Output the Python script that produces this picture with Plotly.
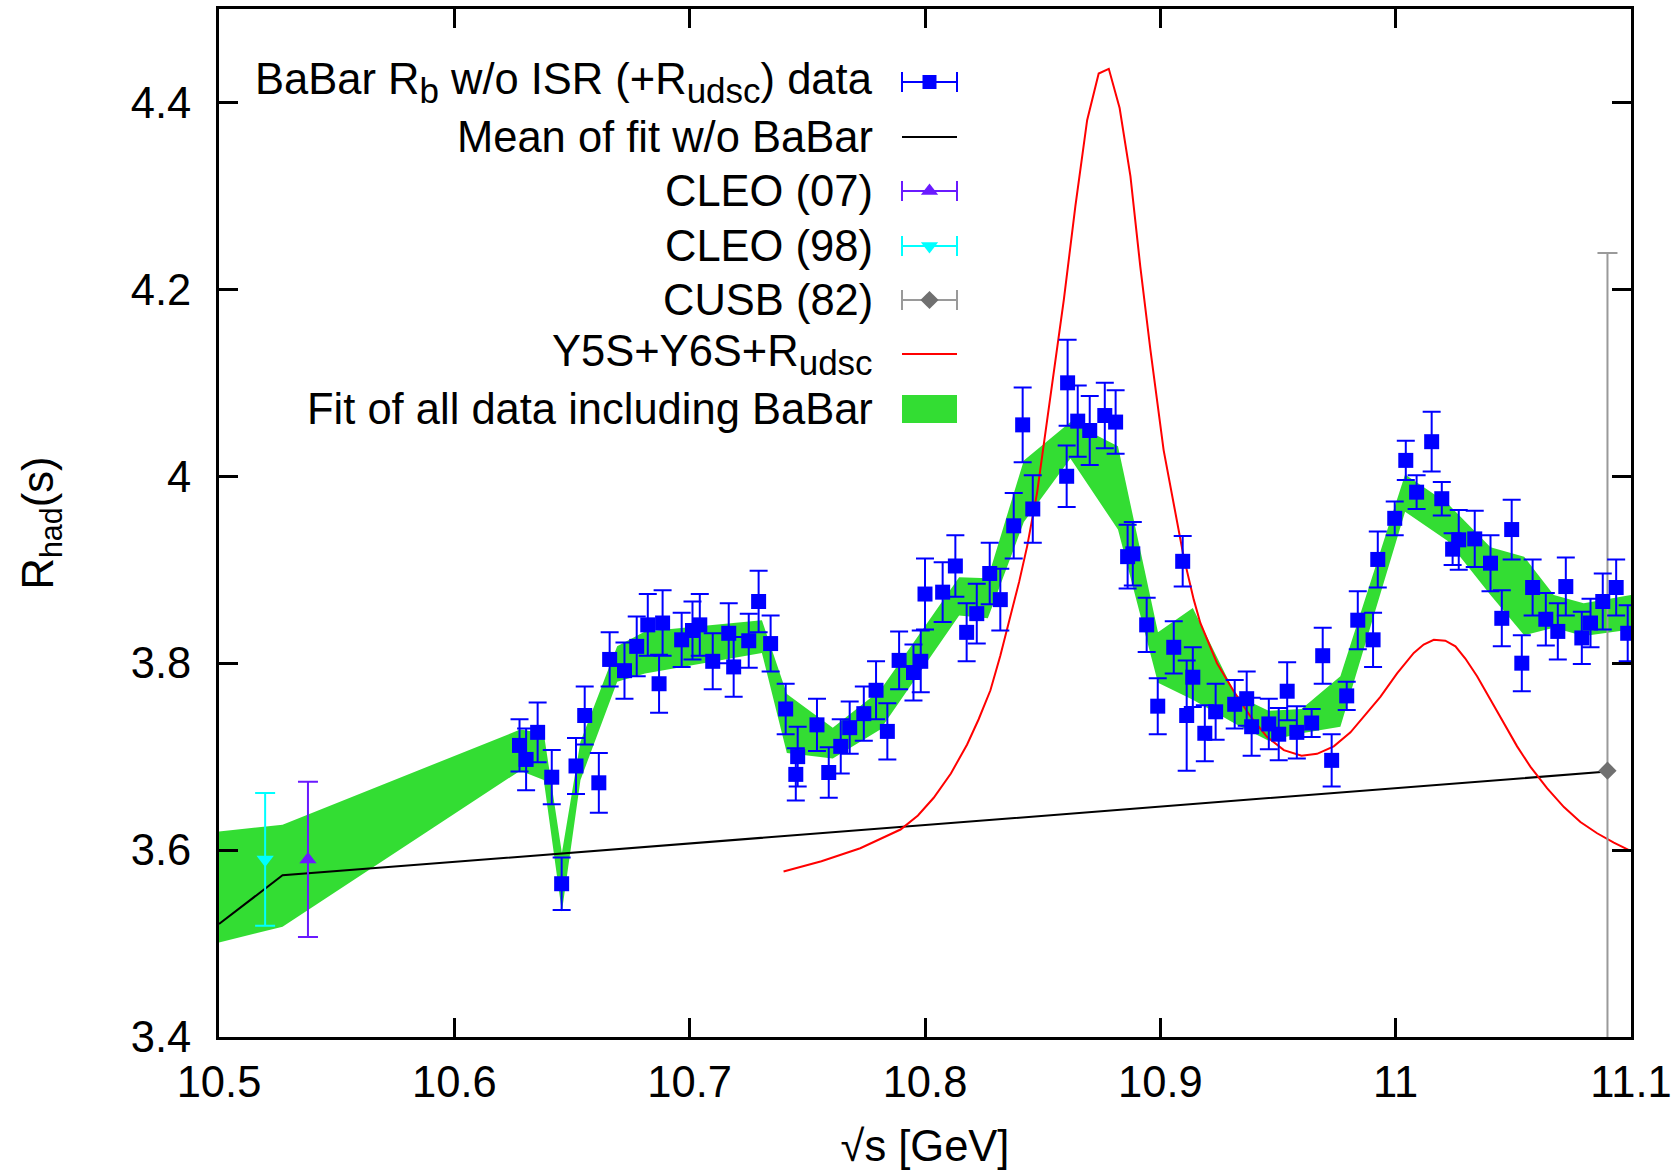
import plotly.graph_objects as go

# ---------------- data ----------------
babar_x = [10.6277, 10.6305, 10.6354, 10.6414, 10.6456, 10.6517, 10.6554, 10.6614, 10.6660, 10.6723,
           10.6775, 10.6822, 10.6870, 10.6885, 10.6966, 10.7012, 10.7043, 10.7098, 10.7166, 10.7187,
           10.7251, 10.7293, 10.7344, 10.7408, 10.7451, 10.7459, 10.7541, 10.7591, 10.7642, 10.7680,
           10.7740, 10.7792, 10.7840, 10.7890, 10.7951, 10.7982, 10.8000, 10.8075, 10.8129, 10.8177,
           10.8220, 10.8275, 10.8320, 10.8377, 10.8415, 10.8458, 10.8602, 10.8606, 10.8649, 10.8700,
           10.8764, 10.8810, 10.8861, 10.8883, 10.8942, 10.8989, 10.9057, 10.9095, 10.9112, 10.9138,
           10.9189, 10.9235, 10.9316, 10.9367, 10.9388, 10.9461, 10.9503, 10.9539, 10.9580, 10.9643,
           10.9690, 10.9728, 10.9792, 10.9839, 10.9904, 10.9924, 10.9996, 11.0043, 11.0089, 11.0153,
           11.0196, 11.0242, 11.0268, 11.0336, 11.0403, 11.0451, 11.0493, 11.0536, 11.0582, 11.0638,
           11.0689, 11.0723, 11.0791, 11.0828, 11.0880, 11.0937, 11.0986]
babar_y = [3.712, 3.697, 3.726, 3.678, 3.564, 3.690, 3.744, 3.672, 3.804, 3.792,
           3.818, 3.841, 3.778, 3.843, 3.825, 3.835, 3.841, 3.802, 3.832, 3.796,
           3.824, 3.866, 3.821, 3.751, 3.681, 3.700, 3.734, 3.683, 3.711, 3.731,
           3.746, 3.771, 3.727, 3.803, 3.790, 3.802, 3.874, 3.876, 3.904, 3.833,
           3.853, 3.896, 3.868, 3.947, 4.055, 3.965, 4.000, 4.100, 4.059, 4.049,
           4.065, 4.058, 3.914, 3.917, 3.841, 3.754, 3.817, 3.909, 3.744, 3.785,
           3.725, 3.748, 3.756, 3.762, 3.732, 3.735, 3.724, 3.770, 3.726, 3.736,
           3.808, 3.696, 3.765, 3.846, 3.825, 3.911, 3.955, 4.017, 3.983, 4.037,
           3.976, 3.922, 3.932, 3.933, 3.907, 3.848, 3.943, 3.800, 3.881, 3.847,
           3.834, 3.882, 3.827, 3.843, 3.866, 3.881, 3.832]
babar_err = [0.028, 0.033, 0.032, 0.029, 0.028, 0.030, 0.031, 0.032, 0.029, 0.030,
             0.032, 0.033, 0.031, 0.035, 0.029, 0.031, 0.033, 0.030, 0.032, 0.032,
             0.029, 0.033, 0.030, 0.027, 0.028, 0.032, 0.028, 0.027, 0.029, 0.028,
             0.029, 0.031, 0.030, 0.031, 0.030, 0.033, 0.038, 0.032, 0.033, 0.031,
             0.032, 0.033, 0.033, 0.035, 0.040, 0.036, 0.033, 0.046, 0.038, 0.037,
             0.035, 0.034, 0.034, 0.034, 0.029, 0.030, 0.028, 0.027, 0.059, 0.032,
             0.030, 0.030, 0.026, 0.029, 0.031, 0.027, 0.028, 0.031, 0.028, 0.015,
             0.030, 0.028, 0.015, 0.031, 0.029, 0.030, 0.018, 0.021, 0.018, 0.032,
             0.018, 0.017, 0.032, 0.030, 0.030, 0.030, 0.032, 0.030, 0.030, 0.028,
             0.030, 0.031, 0.028, 0.026, 0.030, 0.030, 0.030]

mean_x = [10.500, 10.527, 11.090]
mean_y = [3.521, 3.573, 3.684]

cleo07_x = [10.5378]
cleo07_y = [3.590]
cleo07_err = [0.083]

cleo98_x = [10.5196]
cleo98_y = [3.590]
cleo98_err = [0.071]

cusb_x = [11.090]
cusb_y = [3.685]
cusb_err = [0.554]

red_x = [10.7399, 10.7560, 10.7725, 10.7896, 10.7970, 10.8037, 10.8110, 10.8179, 10.8228, 10.8278,
         10.8320, 10.8363, 10.8400, 10.8434, 10.8476, 10.8519, 10.8561, 10.8590, 10.8639, 10.8689,
         10.8738, 10.8781, 10.8827, 10.8873, 10.8915, 10.8958, 10.9014, 10.9057, 10.9099, 10.9142,
         10.9170, 10.9241, 10.9312, 10.9383, 10.9454, 10.9525, 10.9600, 10.9666, 10.9737, 10.9808,
         10.9879, 10.9935, 11.0006, 11.0077, 11.0119, 11.0162, 11.0211, 11.0254, 11.0296, 11.0346,
         11.0403, 11.0459, 11.0516, 11.0573, 11.0644, 11.0715, 11.0785, 11.0856, 11.0927, 11.1000]
red_y = [3.577, 3.588, 3.602, 3.622, 3.637, 3.656, 3.682, 3.713, 3.740, 3.771,
         3.808, 3.850, 3.887, 3.925, 3.982, 4.060, 4.135, 4.189, 4.289, 4.381,
         4.431, 4.436, 4.394, 4.321, 4.224, 4.135, 4.028, 3.971, 3.914, 3.868,
         3.843, 3.800, 3.770, 3.743, 3.721, 3.707, 3.701, 3.703, 3.711, 3.726,
         3.747, 3.764, 3.789, 3.811, 3.820, 3.825, 3.824, 3.818, 3.805, 3.786,
         3.761, 3.736, 3.711, 3.689, 3.666, 3.646, 3.630, 3.618, 3.608, 3.599]

band_x = [10.500, 10.527, 10.628, 10.638, 10.6457, 10.6536, 10.6692, 10.681, 10.7307, 10.7413,
          10.7608, 10.781, 10.8145, 10.8267, 10.842, 10.8618, 10.882, 10.899, 10.9138, 10.932,
          10.946, 10.960, 10.9765, 11.004, 11.022, 11.0403, 11.0546, 11.0672, 11.0799, 11.100]
band_hi = [3.620, 3.627, 3.729, 3.725, 3.597, 3.716, 3.818, 3.834, 3.846, 3.767,
           3.731, 3.771, 3.892, 3.891, 4.017, 4.058, 4.032, 3.833, 3.859, 3.766,
           3.749, 3.751, 3.786, 4.002, 3.971, 3.924, 3.914, 3.873, 3.864, 3.873]
band_lo = [3.501, 3.518, 3.685, 3.675, 3.534, 3.675, 3.780, 3.789, 3.811, 3.704,
           3.698, 3.729, 3.851, 3.848, 3.951, 4.019, 3.943, 3.779, 3.761, 3.735,
           3.717, 3.725, 3.732, 3.962, 3.931, 3.873, 3.830, 3.838, 3.829, 3.836]

x_ticks = [10.5, 10.6, 10.7, 10.8, 10.9, 11.0, 11.1]
x_ticktext = ["10.5", "10.6", "10.7", "10.8", "10.9", "11", "11.1"]
y_ticks = [3.4, 3.6, 3.8, 4.0, 4.2, 4.4]
y_ticktext = ["3.4", "3.6", "3.8", "4", "4.2", "4.4"]

SUB = '<sub><span style="font-size:35px">{}</span></sub>'
legend_labels = [
    "BaBar R" + SUB.format("b") + " w/o ISR (+R" + SUB.format("udsc") + ") data",
    "Mean of fit w/o BaBar",
    "CLEO (07)",
    "CLEO (98)",
    "CUSB (82)",
    "Y5S+Y6S+R" + SUB.format("udsc"),
    "Fit of all data including BaBar",
]

# ---------------- styles ----------------
FONT = "Liberation Sans, Arial, Helvetica, sans-serif"
FS = 43.5
BLUE = "#0000ff"
GREEN = "#33dd33"
PURPLE = "#6a1aff"
CYAN = "#00ffff"
GREY_BAR = "#9a9a9a"
GREY_MK = "#707070"
RED = "#ff0000"

W, H = 1680, 1170
ML, MR, MT, MB = 219, 49, 9, 133

fig = go.Figure()

# fit band
fig.add_trace(go.Scatter(
    x=band_x + band_x[::-1], y=band_hi + band_lo[::-1],
    mode="lines", fill="toself", fillcolor=GREEN,
    line=dict(width=0, color=GREEN), hoverinfo="skip"))

# mean of fit w/o BaBar
fig.add_trace(go.Scatter(x=mean_x, y=mean_y, mode="lines",
                         line=dict(color="black", width=2)))

# Y5S+Y6S+Rudsc
fig.add_trace(go.Scatter(x=red_x, y=red_y, mode="lines",
                         line=dict(color=RED, width=2)))

# CUSB
fig.add_trace(go.Scatter(x=cusb_x, y=cusb_y, mode="markers",
                         marker=dict(symbol="diamond", size=14, color=GREY_MK),
                         error_y=dict(type="data", array=cusb_err, color=GREY_BAR,
                                      thickness=2, width=10)))
# CLEO 98
fig.add_trace(go.Scatter(x=cleo98_x, y=cleo98_y, mode="markers",
                         marker=dict(symbol="triangle-down", size=15, color=CYAN),
                         error_y=dict(type="data", array=cleo98_err, color=CYAN,
                                      thickness=2, width=10)))
# CLEO 07
fig.add_trace(go.Scatter(x=cleo07_x, y=cleo07_y, mode="markers",
                         marker=dict(symbol="triangle-up", size=15, color=PURPLE),
                         error_y=dict(type="data", array=cleo07_err, color=PURPLE,
                                      thickness=2, width=10)))
# BaBar
fig.add_trace(go.Scatter(x=babar_x, y=babar_y, mode="markers",
                         marker=dict(symbol="square", size=15, color=BLUE),
                         error_y=dict(type="data", array=babar_err, color=BLUE,
                                      thickness=2, width=9)))

# ---------------- custom legend (gnuplot style: text right, key on the right) ----
LX0, LX1 = 902, 957
LXC = (LX0 + LX1) / 2
TEXT_X = 875
ROWS = [82, 137, 191, 246, 300, 354, 409]
HALF = (LX1 - LX0) / 2

leg = dict(xaxis="x2", yaxis="y2", hoverinfo="skip")
fig.add_trace(go.Scatter(x=[LXC], y=[ROWS[0]], mode="markers",
                         marker=dict(symbol="square", size=14, color=BLUE),
                         error_x=dict(type="constant", value=HALF, color=BLUE, thickness=2, width=10), **leg))
fig.add_trace(go.Scatter(x=[LX0, LX1], y=[ROWS[1], ROWS[1]], mode="lines",
                         line=dict(color="black", width=2), **leg))
fig.add_trace(go.Scatter(x=[LXC], y=[ROWS[2]], mode="markers",
                         marker=dict(symbol="triangle-up", size=15, color=PURPLE),
                         error_x=dict(type="constant", value=HALF, color=PURPLE, thickness=2, width=10), **leg))
fig.add_trace(go.Scatter(x=[LXC], y=[ROWS[3]], mode="markers",
                         marker=dict(symbol="triangle-down", size=15, color=CYAN),
                         error_x=dict(type="constant", value=HALF, color=CYAN, thickness=2, width=10), **leg))
fig.add_trace(go.Scatter(x=[LXC], y=[ROWS[4]], mode="markers",
                         marker=dict(symbol="diamond", size=14, color=GREY_MK),
                         error_x=dict(type="constant", value=HALF, color=GREY_BAR, thickness=2, width=10), **leg))
fig.add_trace(go.Scatter(x=[LX0, LX1], y=[ROWS[5], ROWS[5]], mode="lines",
                         line=dict(color=RED, width=2), **leg))
fig.add_trace(go.Scatter(x=[LX0, LX1, LX1, LX0, LX0],
                         y=[ROWS[6] - 14, ROWS[6] - 14, ROWS[6] + 14, ROWS[6] + 14, ROWS[6] - 14],
                         mode="lines", fill="toself", fillcolor=GREEN,
                         line=dict(width=0, color=GREEN), **leg))

annotations = []
for lab, ry in zip(legend_labels, ROWS):
    annotations.append(dict(xref="x2", yref="y2", x=TEXT_X, y=ry, text=lab,
                            showarrow=False, xanchor="right", yanchor="middle",
                            font=dict(family=FONT, size=FS, color="black")))

axis_common = dict(showgrid=False, zeroline=False, showline=True, linecolor="black",
                   linewidth=3, mirror="ticks", ticks="inside", ticklen=19, tickwidth=3,
                   tickcolor="black", tickfont=dict(family=FONT, size=FS, color="black"))

fig.update_layout(
    width=W, height=H,
    margin=dict(l=ML, r=MR, t=MT, b=MB, autoexpand=False),
    paper_bgcolor="white", plot_bgcolor="white",
    showlegend=False,
    font=dict(family=FONT, size=FS, color="black"),
    xaxis=dict(range=[10.5, 11.1], tickvals=x_ticks, ticktext=x_ticktext,
               ticklabelstandoff=5,
               title=dict(text="√s [GeV]", font=dict(family=FONT, size=FS), standoff=26),
               **axis_common),
    yaxis=dict(range=[3.4, 4.5], tickvals=y_ticks, ticktext=y_ticktext,
               ticklabelstandoff=16,
               title=dict(text="R<sub>had</sub>(s)", font=dict(family=FONT, size=FS), standoff=64),
               **axis_common),
    xaxis2=dict(overlaying="x", range=[ML, W - MR], visible=False, fixedrange=True),
    yaxis2=dict(overlaying="y", range=[H - MB, MT], visible=False, fixedrange=True),
    annotations=annotations,
)

fig.write_html("out.html")
